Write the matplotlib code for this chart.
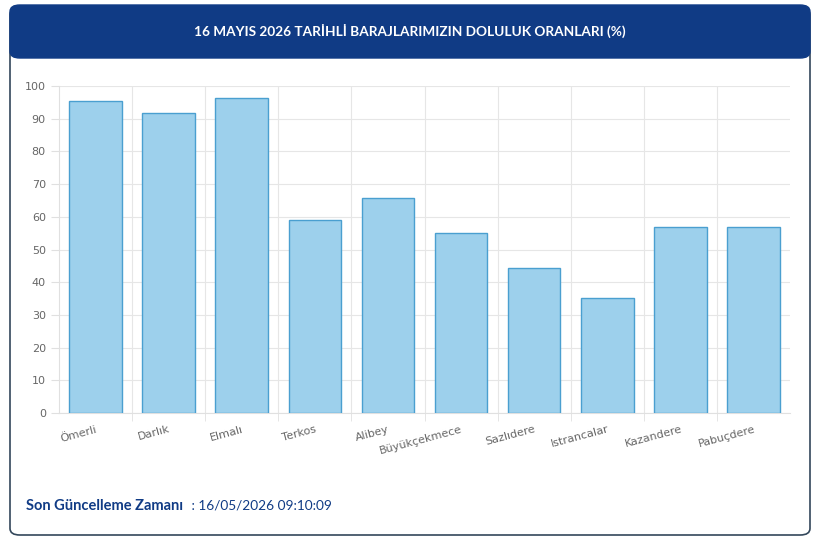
import matplotlib
matplotlib.use("Agg")
import matplotlib.pyplot as plt
from matplotlib.patches import FancyBboxPatch
import matplotlib.transforms as mtransforms

categories = ["Ömerli", "Darlık", "Elmalı", "Terkos", "Alibey", "Büyükçekmece",
              "Sazlıdere", "Istrancalar", "Kazandere", "Pabuçdere"]
values = [95.4, 91.7, 96.3, 59.0, 65.7, 55.0, 44.3, 35.2, 56.9, 56.9]

W, H = 820, 542
fig = plt.figure(figsize=(W/100, H/100), dpi=100)
fig.patch.set_facecolor("white")

def fx(x): return x / W
def fy(y): return 1 - y / H

card = FancyBboxPatch((fx(10), fy(535)), fx(800), (527)/H,
                      boxstyle="round,pad=0,rounding_size=0.012",
                      transform=fig.transFigure, facecolor="white",
                      edgecolor="#33475b", linewidth=1.2, zorder=-2)
fig.patches.append(card)
header = FancyBboxPatch((fx(10), fy(58)), fx(800), 53/H,
                        boxstyle="round,pad=0,rounding_size=0.012",
                        transform=fig.transFigure, facecolor="#103b85",
                        edgecolor="#103b85", zorder=-1)
fig.patches.append(header)
fig.text(0.5, fy(31), "16 MAYIS 2026 TARİHLİ BARAJLARIMIZIN DOLULUK ORANLARI (%)",
         ha="center", va="center", color="white", fontsize=9.8, fontweight="bold",
         family="Lato")

ax = fig.add_axes([fx(59), fy(413), fx(790) - fx(59), (413 - 86)/H])
ax.set_zorder(1)
ax.patch.set_alpha(0)
x = range(len(categories))
ax.bar(x, values, width=0.72, color="#9dd0ec", edgecolor="#4a9fd0", linewidth=1.0, zorder=3)
ax.set_xlim(-0.5, len(categories) - 0.5)
ax.set_ylim(0, 100)
ax.set_yticks(range(0, 101, 10))
ax.set_xticks([i + 0.5 for i in range(len(categories) - 1)], minor=True)
ax.set_xticks(list(x))
ax.set_xticklabels(categories, rotation=15, ha="right", rotation_mode="anchor",
                   fontsize=8, color="#666666")
offset = mtransforms.ScaledTranslation(6/100, 0, fig.dpi_scale_trans)
for lbl in ax.get_xticklabels():
    lbl.set_transform(lbl.get_transform() + offset)
ax.tick_params(axis="y", labelsize=8, colors="#666666", length=6, color="#e0e0e0")
ax.tick_params(axis="x", which="major", length=0, pad=8)
ax.tick_params(axis="x", which="minor", length=6, color="#e0e0e0")
ax.grid(axis="y", color="#e6e6e6", linewidth=0.8, zorder=0)
ax.grid(axis="x", which="minor", color="#e6e6e6", linewidth=0.8, zorder=0)
for s in ["top", "right"]:
    ax.spines[s].set_visible(False)
ax.spines["left"].set_color("#e0e0e0")
ax.spines["bottom"].set_color("#e0e0e0")

fig.text(fx(26), fy(506), "Son Güncelleme Zamanı", ha="left", va="center",
         fontsize=10.5, fontweight="bold", color="#103b85", family="Lato")
fig.text(fx(188), fy(506), " : 16/05/2026 09:10:09", ha="left", va="center",
         fontsize=9.8, color="#103b85", family="Lato")

fig.savefig("out.png", dpi=100)
